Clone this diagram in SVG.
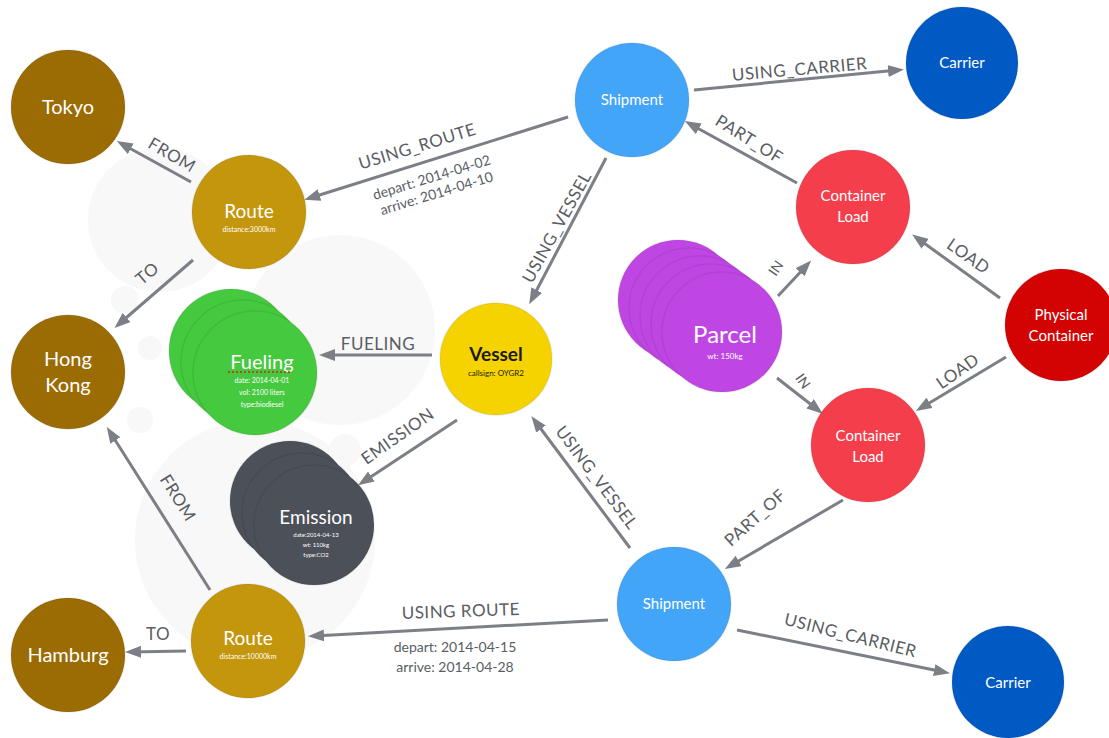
<svg xmlns="http://www.w3.org/2000/svg" width="1109" height="738" viewBox="0 0 1109 738">
  <defs>
    <marker id="arrow" viewBox="0 0 16 12" markerWidth="16" markerHeight="12" refX="10" refY="6" orient="auto" markerUnits="userSpaceOnUse">
      <path d="M0,0 L16,6 L0,12 z" fill="#7c7f86"/>
    </marker>
    <style>
      .edge { stroke: #7c7f86; stroke-width: 3; fill: none; marker-end: url(#arrow); }
      .rel { font-family: Lato, "Open Sans", sans-serif; font-size: 17px; fill: #5a5d64; text-anchor: middle; letter-spacing: 0.5px; }
      .prop { font-family: Lato, "Open Sans", sans-serif; font-size: 14px; fill: #5a5d64; text-anchor: middle; }
      .node circle { stroke: rgba(0,0,0,0.07); stroke-width: 1.5; }
      .cap { font-family: Lato, "Open Sans", sans-serif; fill: #ffffff; text-anchor: middle; }
      .big { font-size: 20px; }
      .mid { font-size: 15px; }
      .tiny { font-size: 7px; }
      .loc { fill: #9b6b04; }
      .route { fill: #c4960c; }
      .ship { fill: #43a5f7; }
      .carrier { fill: #015ac3; }
      .cload { fill: #f53e4c; }
      .pcont { fill: #d30303; }
      .parcel { fill: #c046e4; }
      .fuel { fill: #45c93e; }
      .emis { fill: #4c5059; }
      .vessel { fill: #f5d300; }
      .mark { fill: #f8f8f8; }
    </style>
  </defs>

  <rect width="1109" height="738" fill="#ffffff"/>

  <!-- faint backdrop discs behind the graph -->
  <g id="backdrop">
    <circle class="mark" cx="160" cy="220" r="72"/>
    <circle class="mark" cx="255" cy="540" r="120"/>
    <circle class="mark" cx="340" cy="330" r="95"/>
    <circle class="mark" cx="125" cy="300" r="14"/>
    <circle class="mark" cx="150" cy="348" r="12"/>
    <circle class="mark" cx="140" cy="420" r="13"/>
    <circle class="mark" cx="345" cy="450" r="16"/>
  </g>

  <!-- relationships -->
  <g id="connectors">
    <line class="edge" x1="568" y1="117" x2="310" y2="198"/>
    <line class="edge" x1="191" y1="182" x2="122" y2="144"/>
    <line class="edge" x1="193" y1="260" x2="119" y2="324"/>
    <line class="edge" x1="432" y1="355" x2="325" y2="355"/>
    <line class="edge" x1="457" y1="420" x2="363" y2="482"/>
    <line class="edge" x1="606" y1="158" x2="532" y2="299"/>
    <line class="edge" x1="630" y1="548" x2="535" y2="421"/>
    <line class="edge" x1="608" y1="620" x2="314" y2="636"/>
    <line class="edge" x1="186" y1="651" x2="131" y2="652"/>
    <line class="edge" x1="210" y1="590" x2="110" y2="432"/>
    <line class="edge" x1="694" y1="90" x2="898" y2="70"/>
    <line class="edge" x1="797" y1="183" x2="690" y2="124"/>
    <line class="edge" x1="778" y1="296" x2="807" y2="265"/>
    <line class="edge" x1="777" y1="378" x2="818" y2="410"/>
    <line class="edge" x1="1000" y1="298" x2="917" y2="238"/>
    <line class="edge" x1="1006" y1="357" x2="921" y2="408"/>
    <line class="edge" x1="843" y1="500" x2="730" y2="566"/>
    <line class="edge" x1="737" y1="630" x2="944" y2="672"/>

    <text class="rel" transform="translate(419,152) rotate(-17)">USING_ROUTE</text>
    <text class="prop" transform="translate(433,182) rotate(-17)">depart: 2014-04-02</text>
    <text class="prop" transform="translate(438,198) rotate(-17)">arrive: 2014-04-10</text>
    <text class="rel" transform="translate(169,160) rotate(30)">FROM</text>
    <text class="rel" transform="translate(151,278) rotate(-40)">TO</text>
    <text class="rel" transform="translate(378,350)">FUELING</text>
    <text class="rel" transform="translate(401,441) rotate(-35)">EMISSION</text>
    <text class="rel" transform="translate(562,230) rotate(-61)">USING_VESSEL</text>
    <text class="rel" transform="translate(592,481) rotate(53)">USING_VESSEL</text>
    <text class="rel" transform="translate(173,501) rotate(58)">FROM</text>
    <text class="rel" transform="translate(461,617) rotate(-2)">USING  ROUTE</text>
    <text class="prop" transform="translate(455,652)">depart: 2014-04-15</text>
    <text class="prop" transform="translate(455,672)">arrive: 2014-04-28</text>
    <text class="rel" transform="translate(158,640)">TO</text>
    <text class="rel" transform="translate(800,75) rotate(-5)">USING_CARRIER</text>
    <text class="rel" transform="translate(746,144) rotate(32)">PART_OF</text>
    <text class="prop" transform="translate(780,271) rotate(-55)">IN</text>
    <text class="prop" transform="translate(799,384) rotate(55)">IN</text>
    <text class="rel" transform="translate(965,261) rotate(35)">LOAD</text>
    <text class="rel" transform="translate(961,376) rotate(-35)">LOAD</text>
    <text class="rel" transform="translate(759,522) rotate(-42)">PART_OF</text>
    <text class="rel" transform="translate(849,641) rotate(14)">USING_CARRIER</text>
  </g>

  <!-- nodes -->
  <g id="tokyo" class="node">
    <circle class="loc" cx="68" cy="107" r="57"/>
    <text class="cap big" x="68" y="114">Tokyo</text>
  </g>
  <g id="hong-kong" class="node">
    <circle class="loc" cx="68" cy="372" r="57"/>
    <text class="cap big" x="68" y="366">Hong</text>
    <text class="cap big" x="68" y="392">Kong</text>
  </g>
  <g id="hamburg" class="node">
    <circle class="loc" cx="68" cy="655" r="57"/>
    <text class="cap big" x="68" y="662">Hamburg</text>
  </g>
  <g id="route-1" class="node">
    <circle class="route" cx="249" cy="212" r="57"/>
    <text class="cap" font-size="19" x="249" y="218">Route</text>
    <text class="cap tiny" x="249" y="232">distance:3000km</text>
  </g>
  <g id="route-2" class="node">
    <circle class="route" cx="248" cy="641" r="57"/>
    <text class="cap" font-size="19" x="248" y="645">Route</text>
    <text class="cap tiny" x="248" y="659">distance:10000km</text>
  </g>
  <g id="fueling" class="node">
    <circle class="fuel" cx="231" cy="351" r="62"/>
    <circle class="fuel" cx="243" cy="362" r="62"/>
    <circle class="fuel" cx="255" cy="373" r="62"/>
    <text class="cap big" x="262" y="369">Fueling</text>
    <line x1="228" y1="372" x2="292" y2="372" stroke="#e01b1b" stroke-width="1.5" stroke-dasharray="2 2"/>
    <text class="cap tiny" x="262" y="383">date: 2014-04-01</text>
    <text class="cap tiny" x="262" y="395">vol: 2100 liters</text>
    <text class="cap tiny" x="262" y="407">type:biodiesel</text>
  </g>
  <g id="vessel" class="node">
    <circle class="vessel" cx="496" cy="359" r="56"/>
    <text x="496" y="361" font-family="Lato, sans-serif" font-size="19" font-weight="bold" fill="#1c1a10" text-anchor="middle">Vessel</text>
    <text x="496" y="376" font-family="Lato, sans-serif" font-size="8" fill="#1c1a10" text-anchor="middle">callsign: OYGR2</text>
  </g>
  <g id="emission" class="node">
    <circle class="emis" cx="290" cy="501" r="60"/>
    <circle class="emis" cx="302" cy="513" r="60"/>
    <circle class="emis" cx="314" cy="525" r="60"/>
    <text class="cap" font-size="19" x="316" y="524">Emission</text>
    <text class="cap" font-size="6" x="316" y="537">date:2014-04-13</text>
    <text class="cap" font-size="6" x="316" y="547">wt: 110kg</text>
    <text class="cap" font-size="6" x="316" y="557">type:CO2</text>
  </g>
  <g id="parcel" class="node">
    <circle class="parcel" cx="678" cy="300" r="60"/>
    <circle class="parcel" cx="689" cy="308" r="60"/>
    <circle class="parcel" cx="700" cy="316" r="60"/>
    <circle class="parcel" cx="711" cy="324" r="60"/>
    <circle class="parcel" cx="722" cy="332" r="60"/>
    <text class="cap" font-size="24" x="725" y="343">Parcel</text>
    <text class="cap" font-size="8" x="725" y="359">wt: 150kg</text>
  </g>
  <g id="shipment-1" class="node">
    <circle class="ship" cx="632" cy="100" r="57"/>
    <text class="cap mid" x="632" y="105">Shipment</text>
  </g>
  <g id="carrier-1" class="node">
    <circle class="carrier" cx="962" cy="63" r="56"/>
    <text class="cap mid" x="962" y="68">Carrier</text>
  </g>
  <g id="container-load-1" class="node">
    <circle class="cload" cx="853" cy="207" r="57"/>
    <text class="cap mid" x="853" y="201">Container</text>
    <text class="cap mid" x="853" y="222">Load</text>
  </g>
  <g id="physical-container" class="node">
    <circle class="pcont" cx="1061" cy="325" r="56"/>
    <text class="cap mid" x="1061" y="320">Physical</text>
    <text class="cap mid" x="1061" y="341">Container</text>
  </g>
  <g id="container-load-2" class="node">
    <circle class="cload" cx="868" cy="445" r="57"/>
    <text class="cap mid" x="868" y="441">Container</text>
    <text class="cap mid" x="868" y="462">Load</text>
  </g>
  <g id="shipment-2" class="node">
    <circle class="ship" cx="674" cy="604" r="57"/>
    <text class="cap mid" x="674" y="609">Shipment</text>
  </g>
  <g id="carrier-2" class="node">
    <circle class="carrier" cx="1008" cy="682" r="56"/>
    <text class="cap mid" x="1008" y="688">Carrier</text>
  </g>
</svg>
